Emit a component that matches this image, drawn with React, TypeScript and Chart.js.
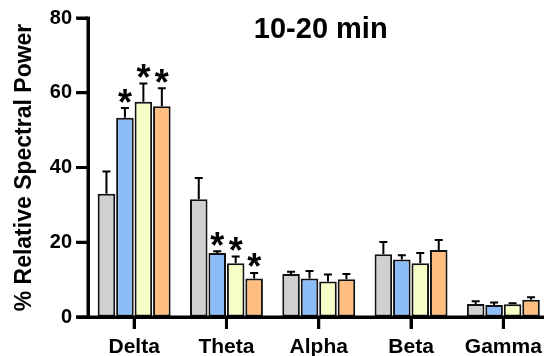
import React, { useEffect, useRef } from "react";
import { Chart, registerables } from "chart.js";

Chart.register(...registerables);

const categories = ["Delta", "Theta", "Alpha", "Beta", "Gamma"];
const seriesNames = ["Group 1", "Group 2", "Group 3", "Group 4"];
const group1 = [33.0, 31.5, 11.5, 16.8, 3.5];
const group1Err = [5.9, 5.7, 0.6, 3.3, 0.7];
const group2 = [53.3, 17.1, 10.3, 15.4, 3.2];
const group2Err = [2.6, 0.5, 2.0, 1.1, 0.7];
const group3 = [57.6, 14.4, 9.5, 14.4, 3.4];
const group3Err = [4.9, 1.8, 1.9, 2.7, 0.3];
const group4 = [56.4, 10.3, 10.1, 17.9, 4.6];
const group4Err = [4.8, 1.5, 1.4, 2.7, 0.7];
const group1Sig = [false, false, false, false, false];
const group2Sig = [true, true, false, false, false];
const group3Sig = [true, true, false, false, false];
const group4Sig = [true, true, false, false, false];
const yTicks = [0, 20, 40, 60, 80];
const titleText = "10-20 min";
const yTitle = "% Relative Spectral Power";

const colors = ["#D0D0D0", "#8DBDF8", "#F5FFC6", "#FFBE80"];
const FONT = "'Liberation Sans', Arial, Helvetica, sans-serif";

const values = [group1, group2, group3, group4];
const errors = [group1Err, group2Err, group3Err, group4Err];
const sigs = [group1Sig, group2Sig, group3Sig, group4Sig];

const axesPlugin = {
  id: "axesLines",
  afterDraw(chart: any) {
    const { ctx, chartArea } = chart;
    const xs = chart.scales.x;
    const ys = chart.scales.y;
    ctx.save();
    ctx.fillStyle = "#000";
    const x0 = Math.round(xs.left);
    const yBottom = Math.round(ys.getPixelForValue(yTicks[0]));
    const yTop = Math.round(ys.getPixelForValue(yTicks[yTicks.length - 1]));
    ctx.fillRect(x0 - 1.5, yTop - 1.5, 3, yBottom - yTop + 3);
    yTicks.forEach((v) => {
      const py = ys.getPixelForValue(v);
      ctx.fillRect(x0 - 12, py - 1.5, 12, 3);
    });
    ctx.fillRect(x0 - 12, yBottom - 1.5, chartArea.right - x0 + 12, 3);
    categories.forEach((_, i) => {
      const px = xs.getPixelForTick(i);
      ctx.fillRect(px - 1.5, yBottom, 3, 12);
    });
    ctx.restore();
  },
};

const errorPlugin = {
  id: "errorBarsStars",
  afterDraw(chart: any) {
    const ctx = chart.ctx;
    const yScale = chart.scales.y;
    ctx.save();
    ctx.strokeStyle = "#000";
    ctx.fillStyle = "#000";
    ctx.lineWidth = 2;
    values.forEach((series, i) => {
      const meta = chart.getDatasetMeta(i);
      meta.data.forEach((el: any, j: number) => {
        const x = el.x;
        const top = yScale.getPixelForValue(series[j] + errors[i][j]);
        ctx.beginPath();
        ctx.moveTo(x, el.y);
        ctx.lineTo(x, top);
        ctx.moveTo(x - 4, top);
        ctx.lineTo(x + 4, top);
        ctx.stroke();
        if (sigs[i][j]) {
          ctx.font = `bold 36px ${FONT}`;
          ctx.textAlign = "center";
          ctx.textBaseline = "alphabetic";
          const m = ctx.measureText("*");
          const asc = m.actualBoundingBoxAscent;
          const desc = m.actualBoundingBoxDescent;
          const cy = top - 12.5;
          ctx.fillText("*", x, cy + (asc - desc) / 2);
        }
      });
    });
    ctx.restore();
  },
};

const titlePlugin = {
  id: "innerTitle",
  afterDraw(chart: any) {
    const { ctx, chartArea } = chart;
    ctx.save();
    ctx.font = `bold 29px ${FONT}`;
    ctx.fillStyle = "#000";
    ctx.textAlign = "center";
    ctx.textBaseline = "middle";
    ctx.fillText(titleText, (chartArea.left + chartArea.right) / 2 + 2, chartArea.top + 12);
    ctx.restore();
  },
};

export default function App() {
  const ref = useRef<HTMLCanvasElement | null>(null);
  useEffect(() => {
    if (!ref.current) return;
    const chart = new Chart(ref.current, {
      type: "bar",
      data: {
        labels: categories,
        datasets: values.map((v, i) => ({
          label: seriesNames[i],
          data: v,
          backgroundColor: colors[i],
          borderColor: "#111",
          borderWidth: 2,
          borderSkipped: false,
          categoryPercentage: 0.8,
          barPercentage: 0.95,
        })),
      },
      options: {
        animation: false,
        responsive: false,
        layout: { padding: { top: 18, right: 10.5, left: 0, bottom: 0 } },
        plugins: {
          legend: { display: false },
          tooltip: { enabled: false },
          title: { display: false },
        },
        scales: {
          x: {
            offset: true,
            grid: {
              offset: false,
              drawOnChartArea: false,
              drawTicks: true,
              tickLength: 12,
              tickWidth: 3,
              tickColor: "#000",
            },
            border: { display: true, width: 3, color: "#000" },
            ticks: {
              color: "#000",
              font: { family: FONT, weight: "bold", size: 21 },
              padding: 6,
              maxRotation: 0,
              autoSkip: false,
            },
            afterFit(scale: any) {
              scale.height = 356 - 317;
            },
          },
          y: {
            min: 0,
            max: 80,
            afterBuildTicks(scale: any) {
              scale.ticks = yTicks.map((v) => ({ value: v }));
            },
            grid: {
              drawOnChartArea: false,
              drawTicks: true,
              tickLength: 11,
              tickWidth: 3,
              tickColor: "#000",
            },
            border: { display: true, width: 3, color: "#000" },
            ticks: {
              color: "#000",
              font: { family: FONT, weight: "bold", size: 20 },
              padding: 5,
            },
            title: {
              display: true,
              text: yTitle,
              color: "#000",
              font: { family: FONT, weight: "bold", size: 23 },
              padding: { top: 11, bottom: 0 },
            },
            afterFit(scale: any) {
              scale.width = 88;
            },
          },
        },
      },
      plugins: [axesPlugin, errorPlugin, titlePlugin],
    });
    return () => chart.destroy();
  }, []);

  return (
    <div
      style={{
        position: "fixed",
        left: 0,
        top: 0,
        width: 544,
        height: 356,
        overflow: "hidden",
        background: "#fff",
      }}
    >
      <canvas ref={ref} width={560} height={356} style={{ width: 560, height: 356, display: "block" }} />
    </div>
  );
}
